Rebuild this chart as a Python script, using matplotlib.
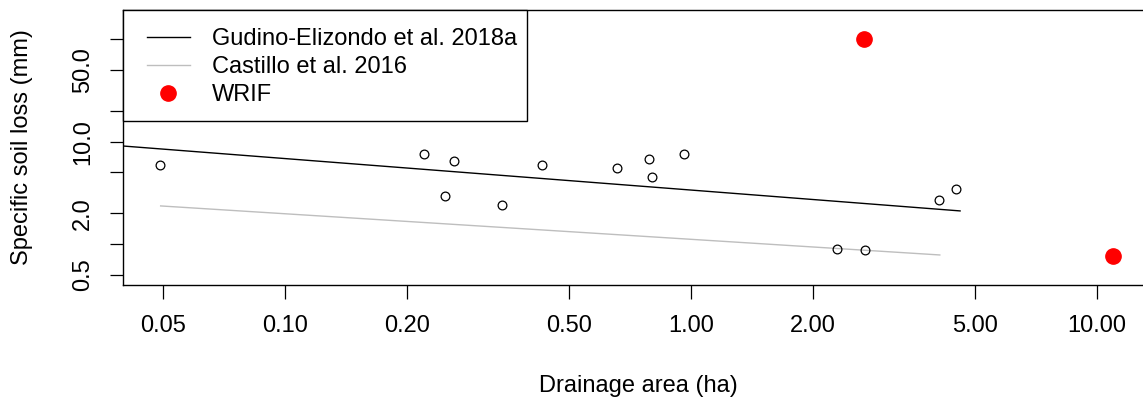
import matplotlib
matplotlib.use("Agg")
import matplotlib.pyplot as plt
from matplotlib.patches import Rectangle

# ---- data ----
area_ha = [0.0493, 0.220, 0.261, 0.248, 0.342, 0.430, 0.658, 0.788, 0.803,
           0.961, 4.09, 4.49, 2.29, 2.68]
ssl_mm = [5.9, 7.5, 6.5, 2.97, 2.41, 5.9, 5.5, 6.7, 4.49,
          7.5, 2.70, 3.43, 0.904, 0.877]

wrif_area = [2.67, 10.97]
wrif_ssl = [101.0, 0.77]

gudino_x = [0.0399, 4.60]
gudino_y = [9.06, 2.11]

castillo_x = [0.0494, 4.10]
castillo_y = [2.36, 0.785]

xtick_values = [0.05, 0.10, 0.20, 0.50, 1.00, 2.00, 5.00, 10.00]
xtick_labels = ["0.05", "0.10", "0.20", "0.50", "1.00", "2.00", "5.00", "10.00"]
ytick_values = [0.5, 1, 2, 5, 10, 20, 50, 100]
ytick_labels = ["0.5", "", "2.0", "", "10.0", "", "50.0", ""]

# ---- figure ----
plt.rcParams['font.family'] = ['Liberation Sans', 'DejaVu Sans']
FS = 17.0
W, H = 1143, 404
fig = plt.figure(figsize=(W / 100, H / 100), dpi=100)
L, R, T, B = 123, 1152, 10, 285
ax = fig.add_axes([L / W, 1 - B / H, (R - L) / W, (B - T) / H])
ax.set_xscale('log')
ax.set_yscale('log')
ax.set_xlim(0.0399, 13.66)
ax.set_ylim(0.400, 191.9)

ax.plot(gudino_x, gudino_y, color='black', lw=1.0, label='Gudino-Elizondo et al. 2018a')
ax.plot(castillo_x, castillo_y, color='#BEBEBE', lw=1.0, label='Castillo et al. 2016')
ax.plot(area_ha, ssl_mm, linestyle='none', marker='o', ms=6.3,
        mfc='none', mec='black', mew=0.9)
ax.plot(wrif_area, wrif_ssl, linestyle='none', marker='o', ms=11,
        mfc='#FF0000', mec='#FF0000', label='WRIF')

ax.minorticks_off()
ax.set_xticks(xtick_values)
ax.set_xticklabels(xtick_labels, fontsize=FS)
ax.set_yticks(ytick_values)
ax.set_yticklabels(ytick_labels, fontsize=FS, rotation=90, va='center')
ax.tick_params(axis='x', length=10, width=0.9, pad=11.5)
ax.tick_params(axis='y', length=9.5, width=0.9, pad=11.5)
for s in ax.spines.values():
    s.set_linewidth(1.0)

ax.set_xlabel('Drainage area (ha)', fontsize=FS)
ax.xaxis.set_label_coords((638 - L) / (R - L), (B - 386) / (B - T))
ax.xaxis.label.set_va('center')
ax.set_ylabel('Specific soil loss (mm)', fontsize=FS)
ax.yaxis.set_label_coords((22 - L) / (R - L), 0.5)
ax.yaxis.label.set_va('center')

# legend
frame = Rectangle((0, (B - 121) / (B - T)), (527 - L) / (R - L), (121 - T) / (B - T),
                  transform=ax.transAxes, fill=True, facecolor='white',
                  edgecolor='black', lw=1.0, zorder=5, clip_on=False)
ax.add_patch(frame)
leg = ax.legend(loc='upper left', bbox_to_anchor=((147 - L) / (R - L), (B - 28.5) / (B - T)),
                frameon=False, fontsize=FS, borderpad=0, borderaxespad=0,
                handlelength=1.8, handletextpad=0.95, labelspacing=0.24)
leg.set_zorder(6)

fig.savefig('out.png', dpi=100)
